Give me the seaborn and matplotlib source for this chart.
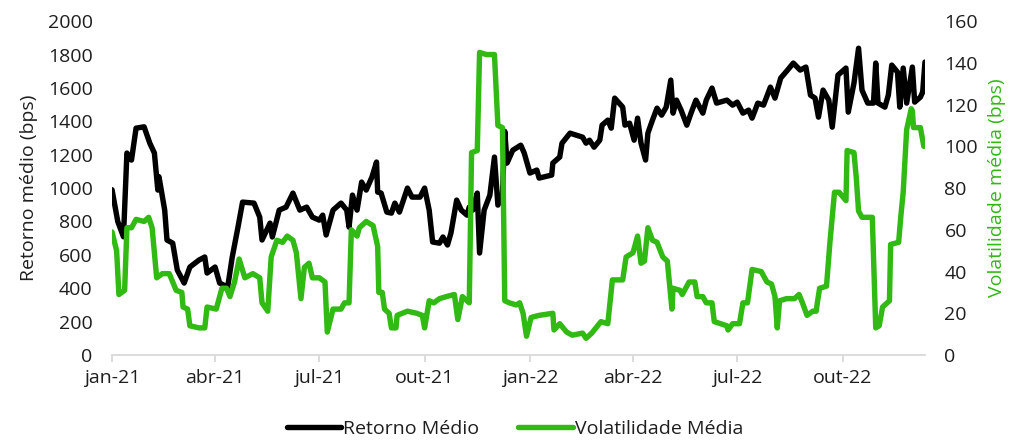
import matplotlib
matplotlib.use("Agg")
import matplotlib.pyplot as plt
import matplotlib.dates as mdates
from matplotlib.lines import Line2D
import pandas as pd
import seaborn as sns

# ---------------- data ----------------
ret_dates = [
    "2021-01-01", "2021-01-06", "2021-01-11", "2021-01-14", "2021-01-18", "2021-01-22", "2021-01-29",
    "2021-02-03", "2021-02-07", "2021-02-10", "2021-02-11", "2021-02-16", "2021-02-18", "2021-02-23",
    "2021-02-27", "2021-03-05", "2021-03-10", "2021-03-18", "2021-03-23", "2021-03-25", "2021-04-01",
    "2021-04-05", "2021-04-12", "2021-04-16", "2021-04-21", "2021-04-25", "2021-05-05", "2021-05-10",
    "2021-05-12", "2021-05-19", "2021-05-21", "2021-05-27", "2021-06-02", "2021-06-08", "2021-06-14",
    "2021-06-20", "2021-06-25", "2021-07-01", "2021-07-04", "2021-07-07", "2021-07-13", "2021-07-20",
    "2021-07-25", "2021-07-27", "2021-07-30", "2021-08-03", "2021-08-07", "2021-08-11", "2021-08-16",
    "2021-08-20", "2021-08-21", "2021-08-24", "2021-08-29", "2021-09-02", "2021-09-05", "2021-09-09",
    "2021-09-16", "2021-09-20", "2021-09-27", "2021-10-01", "2021-10-05", "2021-10-08", "2021-10-14",
    "2021-10-17", "2021-10-21", "2021-10-24", "2021-10-29", "2021-11-02", "2021-11-07", "2021-11-09",
    "2021-11-12", "2021-11-16", "2021-11-18", "2021-11-22", "2021-11-27", "2021-12-01", "2021-12-04",
    "2021-12-08", "2021-12-10", "2021-12-12", "2021-12-17", "2021-12-24", "2021-12-27", "2022-01-01",
    "2022-01-07", "2022-01-09", "2022-01-20", "2022-01-21", "2022-01-27", "2022-01-29", "2022-02-05",
    "2022-02-16", "2022-02-19", "2022-02-22", "2022-02-26", "2022-03-03", "2022-03-05", "2022-03-10",
    "2022-03-13", "2022-03-16", "2022-03-23", "2022-03-25", "2022-03-29", "2022-04-02", "2022-04-05",
    "2022-04-08", "2022-04-12", "2022-04-14", "2022-04-18", "2022-04-22", "2022-04-26", "2022-04-30",
    "2022-05-04", "2022-05-06", "2022-05-09", "2022-05-13", "2022-05-18", "2022-05-22", "2022-05-26",
    "2022-06-01", "2022-06-04", "2022-06-09", "2022-06-13", "2022-06-22", "2022-06-27", "2022-07-01",
    "2022-07-06", "2022-07-11", "2022-07-14", "2022-07-19", "2022-07-24", "2022-07-30", "2022-08-03",
    "2022-08-08", "2022-08-14", "2022-08-19", "2022-08-25", "2022-08-30", "2022-09-03", "2022-09-07",
    "2022-09-10", "2022-09-14", "2022-09-19", "2022-09-22", "2022-09-27", "2022-10-04", "2022-10-06",
    "2022-10-11", "2022-10-15", "2022-10-18", "2022-10-23", "2022-10-28", "2022-10-30", "2022-11-01",
    "2022-11-07", "2022-11-10", "2022-11-13", "2022-11-18", "2022-11-20", "2022-11-23", "2022-11-26",
    "2022-12-01", "2022-12-03", "2022-12-08", "2022-12-10", "2022-12-12",
]
ret_values = [
    990, 800, 708, 1210, 1168, 1359, 1367,
    1269, 1210, 988, 1068, 868, 689, 670,
    509, 431, 527, 569, 587, 491, 527,
    431, 407, 587, 766, 916, 910, 826,
    689, 790, 707, 868, 886, 970, 868,
    886, 826, 808, 838, 719, 868, 910,
    868, 766, 958, 868, 1036, 988, 1066,
    1156, 976, 970, 856, 850, 910, 856,
    1000, 946, 946, 1000, 868, 677, 670,
    707, 659, 731, 928, 868, 838, 886,
    868, 970, 611, 868, 958, 1186, 898,
    960, 1340, 1150, 1227, 1257, 1210, 1090,
    1108, 1060, 1078, 1150, 1186, 1269, 1329,
    1305, 1269, 1287, 1245, 1287, 1377, 1407,
    1359, 1539, 1485, 1377, 1389, 1287, 1419,
    1269, 1168, 1329, 1407, 1479, 1437, 1485,
    1647, 1449, 1527, 1467, 1377, 1455, 1527,
    1449, 1527, 1599, 1509, 1527, 1497, 1515,
    1449, 1467, 1419, 1509, 1497, 1605, 1539,
    1659, 1707, 1749, 1707, 1725, 1557, 1539,
    1425, 1587, 1527, 1365, 1677, 1719, 1455,
    1629, 1838, 1587, 1509, 1509, 1749, 1509,
    1485, 1557, 1737, 1695, 1485, 1719, 1509,
    1725, 1515, 1545, 1575, 1755,
]

vol_dates = [
    "2021-01-01", "2021-01-05", "2021-01-07", "2021-01-12", "2021-01-14", "2021-01-18", "2021-01-22",
    "2021-01-29", "2021-02-02", "2021-02-05", "2021-02-09", "2021-02-14", "2021-02-20", "2021-02-26",
    "2021-03-03", "2021-03-04", "2021-03-08", "2021-03-10", "2021-03-18", "2021-03-23", "2021-03-25",
    "2021-04-02", "2021-04-07", "2021-04-11", "2021-04-14", "2021-04-18", "2021-04-22", "2021-04-27",
    "2021-05-04", "2021-05-10", "2021-05-12", "2021-05-17", "2021-05-20", "2021-05-25", "2021-05-30",
    "2021-06-03", "2021-06-08", "2021-06-11", "2021-06-15", "2021-06-18", "2021-06-22", "2021-06-25",
    "2021-07-01", "2021-07-06", "2021-07-08", "2021-07-13", "2021-07-20", "2021-07-23", "2021-07-27",
    "2021-07-29", "2021-08-03", "2021-08-05", "2021-08-11", "2021-08-17", "2021-08-21", "2021-08-22",
    "2021-08-25", "2021-08-27", "2021-08-31", "2021-09-02", "2021-09-06", "2021-09-07", "2021-09-16",
    "2021-09-24", "2021-09-29", "2021-10-01", "2021-10-05", "2021-10-09", "2021-10-14", "2021-10-20",
    "2021-10-27", "2021-10-30", "2021-11-03", "2021-11-09", "2021-11-11", "2021-11-16", "2021-11-18",
    "2021-11-24", "2021-12-01", "2021-12-04", "2021-12-08", "2021-12-10", "2021-12-14", "2021-12-20",
    "2021-12-23", "2021-12-26", "2021-12-29", "2022-01-02", "2022-01-09", "2022-01-21", "2022-01-22",
    "2022-01-27", "2022-02-02", "2022-02-07", "2022-02-16", "2022-02-19", "2022-02-24", "2022-03-04",
    "2022-03-10", "2022-03-14", "2022-03-23", "2022-03-26", "2022-04-01", "2022-04-05", "2022-04-08",
    "2022-04-11", "2022-04-14", "2022-04-18", "2022-04-22", "2022-04-27", "2022-05-01", "2022-05-05",
    "2022-05-06", "2022-05-12", "2022-05-14", "2022-05-20", "2022-05-25", "2022-05-27", "2022-06-01",
    "2022-06-04", "2022-06-09", "2022-06-11", "2022-06-22", "2022-06-23", "2022-06-27", "2022-07-03",
    "2022-07-06", "2022-07-10", "2022-07-14", "2022-07-22", "2022-07-27", "2022-07-31", "2022-08-03",
    "2022-08-05", "2022-08-07", "2022-08-13", "2022-08-20", "2022-08-24", "2022-08-27", "2022-08-31",
    "2022-09-05", "2022-09-08", "2022-09-09", "2022-09-11", "2022-09-17", "2022-09-20", "2022-09-24",
    "2022-09-28", "2022-10-04", "2022-10-05", "2022-10-11", "2022-10-13", "2022-10-15", "2022-10-18",
    "2022-10-27", "2022-10-30", "2022-11-02", "2022-11-05", "2022-11-11", "2022-11-12", "2022-11-19",
    "2022-11-21", "2022-11-23", "2022-11-26", "2022-11-30", "2022-12-01", "2022-12-02", "2022-12-08",
    "2022-12-11",
]
vol_values = [
    59, 50, 29, 31, 61, 61, 65,
    64, 66, 61, 37, 39, 39, 31,
    30, 23, 22, 14, 13, 13, 23,
    22, 32, 32, 28, 35, 46, 37,
    39, 37, 25, 21, 47, 55, 54,
    57, 55, 49, 27, 42, 44, 37,
    37, 35, 11, 22, 22, 25, 25,
    60, 57, 61, 64, 62, 52, 30,
    30, 22, 20, 13, 13, 19, 21,
    20, 19, 13, 26, 25, 27, 28,
    29, 17, 28, 25, 97, 98, 145,
    144, 144, 110, 109, 26, 25, 24,
    25, 20, 9, 18, 19, 20, 12,
    15, 11, 9.5, 10.5, 8, 10.5, 16,
    15, 36, 36, 47, 49, 57, 44,
    45, 61, 55, 54, 47, 45, 22,
    32, 31, 29, 35, 35, 28, 28,
    25, 25, 16, 14, 12, 15, 15,
    25, 25, 41, 40, 35, 34, 28,
    13, 26, 27, 27, 29, 25, 19,
    21, 21, 25, 32, 33, 54, 78,
    78, 74, 98, 97, 85, 69, 66,
    66, 13, 14, 23, 26, 53, 54,
    67, 78, 108, 118, 117, 109, 109,
    100,
]

left_ticks = [0, 200, 400, 600, 800, 1000, 1200, 1400, 1600, 1800, 2000]
right_ticks = [0, 20, 40, 60, 80, 100, 120, 140, 160]
month_pt = {1: "jan", 4: "abr", 7: "jul", 10: "out"}

series_names = ["Retorno Médio", "Volatilidade Média"]
left_label = "Retorno médio (bps)"
right_label = "Volatilidade média (bps)"

# ---------------- style ----------------
sns.set_style("white")
plt.rcParams["font.family"] = ["Open Sans", "DejaVu Sans"]

BLACK = "#000000"
GREEN = "#31B914"
TEXT = "#1E1E1E"
AXIS = "#D9D9D9"
FS = 14
LW = 3.9

df_ret = pd.DataFrame({"date": pd.to_datetime(ret_dates), "value": ret_values})
df_vol = pd.DataFrame({"date": pd.to_datetime(vol_dates), "value": vol_values})

fig = plt.figure(figsize=(10.12, 4.41), dpi=100)
ax = fig.add_axes([0.1107, 0.195, 0.8033, 0.757])
ax2 = ax.twinx()

sns.lineplot(data=df_ret, x="date", y="value", ax=ax, color=BLACK, linewidth=LW,
             legend=False)
sns.lineplot(data=df_vol, x="date", y="value", ax=ax2, color=GREEN, linewidth=LW,
             legend=False)

ax.set_xlim(pd.Timestamp("2021-01-01"), pd.Timestamp("2022-12-12"))
ax.set_ylim(0, 2000)
ax2.set_ylim(0, 160)
ax.set_yticks(left_ticks)
ax2.set_yticks(right_ticks)

ax.xaxis.set_major_locator(mdates.MonthLocator(bymonth=[1, 4, 7, 10]))
ax.xaxis.set_major_formatter(
    plt.FuncFormatter(lambda v, p: f"{month_pt[mdates.num2date(v).month]}-{mdates.num2date(v).strftime('%y')}"))

for a in (ax, ax2):
    for s in ("top", "left", "right", "bottom"):
        a.spines[s].set_visible(False)
    a.grid(False)
ax.spines["bottom"].set_visible(True)
ax.spines["bottom"].set_color(AXIS)
ax.spines["bottom"].set_linewidth(1.3)

ax.tick_params(axis="x", which="major", length=5, width=1.3, color=AXIS,
               labelsize=FS, labelcolor=TEXT, pad=5, direction="out", bottom=True)
ax.tick_params(axis="y", length=0, labelsize=FS, labelcolor=TEXT, pad=14)
ax2.tick_params(axis="y", length=0, labelsize=FS, labelcolor=TEXT, pad=14)

ax.set_xlabel("")
ax.set_ylabel(left_label, fontsize=FS, color=TEXT, labelpad=7)
ax2.set_ylabel(right_label, fontsize=FS, color=GREEN, labelpad=7)

handles = [Line2D([0], [0], color=BLACK, linewidth=LW, solid_capstyle="round"),
           Line2D([0], [0], color=GREEN, linewidth=LW, solid_capstyle="round")]
fig.legend(handles, series_names, loc="center", bbox_to_anchor=(0.509, 0.027),
           ncol=2, frameon=False, fontsize=FS, handlelength=2.8, handletextpad=0.1,
           columnspacing=2.0, labelcolor=TEXT)

fig.savefig("out.png", dpi=100, facecolor="white")
